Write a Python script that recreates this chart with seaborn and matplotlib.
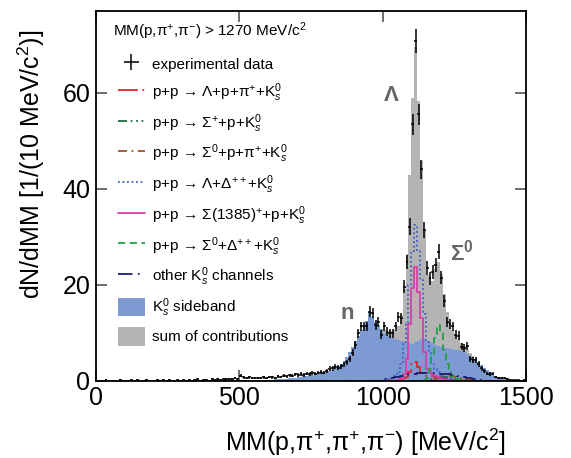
import numpy as np
import pandas as pd
import matplotlib
matplotlib.use('Agg')
import matplotlib.pyplot as plt
from matplotlib.lines import Line2D
from matplotlib.patches import Patch
import seaborn as sns

# binning: 10 MeV/c2 bins from 0 to 1500
bordas = np.arange(0, 1510, 10)
centros = bordas[:-1] + 5

# experimental data (counts per bin, 0..1490)
dados_exp = [
    0, 0, 0, 0.2, 0, 0, 0, 0, 0.2, 0,
    0, 0, 0.2, 0, 0.2, 0, 0, 0.2, 0, 0,
    0, 0.2, 0, 0.2, 0, 0.2, 0, 0, 0.2, 0,
    0.2, 0, 0.2, 0, 0.2, 0.3, 0, 0.2, 0.2, 0,
    0.3, 0.2, 0.3, 0.2, 0.4, 0.3, 0.3, 0.4, 0.5, 0.4,
    1.0, 0.7, 0.6, 0.7, 0.5, 0.6, 0.5, 0.6, 0.7, 0.6,
    0.8, 0.7, 0.6, 0.9, 0.8, 1.0, 0.9, 1.1, 1.0, 1.3,
    1.2, 1.4, 1.2, 1.5, 1.4, 1.6, 1.5, 1.7, 1.8, 1.7,
    2.0, 2.5, 2.6, 2.9, 2.7, 3.0, 3.4, 3.8, 4.6, 5.8,
    7.5, 9.9, 11.3, 11.3, 11.3, 14.4, 14.1, 11.6, 12.3, 9.6,
    11.3, 10.2, 9.9, 9.9, 11.3, 13.3, 13.0, 19.6, 24.8, 32.1,
    53.4, 70.8, 55.5, 44.1, 31.4, 23.4, 21.3, 22.7, 24.1, 26.9,
    21.5, 16.6, 12.2, 11.8, 11.3, 9.6, 9.4, 7.1, 6.8, 7.2,
    4.6, 4.3, 4.3, 3.5, 2.6, 2.0, 1.5, 1.4, 1.5, 0.8,
    0.6, 0.5, 0.5, 0.3, 0.2, 0.1, 0.1, 0.1, 0, 0.1,
]

# K0s sideband (0..1490)
sideband = [0] * 60 + [
    0.2, 0.2, 0.3, 0.3, 0.3, 0.4, 0.4, 0.5, 0.5, 0.6,
    0.7, 0.8, 0.9, 1.0, 1.1, 1.2, 1.4, 1.5, 1.6, 1.8,
    2.0, 2.1, 2.3, 2.6, 3.0, 3.5, 4.2, 5.0, 6.0, 7.0,
    8.2, 9.3, 10.5, 11.5, 12.5, 14.3, 13.2, 12.3, 11.6, 10.8,
    10.0, 9.6, 9.3, 9.0, 8.7, 8.5, 8.3, 8.1, 8.0, 7.8,
    7.6, 8.0, 8.3, 8.6, 8.6, 8.3, 8.0, 7.8, 7.5, 7.2,
    7.0, 6.8, 6.8, 6.7, 6.6, 6.5, 6.3, 6.1, 5.9, 5.6,
    5.0, 4.6, 4.2, 3.7, 3.2, 2.7, 2.2, 1.8, 1.4, 1.0,
    0.7, 0.5, 0.3, 0.2, 0.1, 0, 0, 0, 0, 0,
]

# simulated channels, bins from 1000 to 1340
lam_p_pi = [0, 0, 0.1, 0.1, 0.2, 0.2, 0.3, 0.5, 0.8, 1.8,
            3.5, 4.0, 2.8, 1.6, 1.2, 1.0, 0.9, 0.9, 0.8, 0.7,
            0.6, 0.5, 0.4, 0.3, 0.2, 0.2, 0.1, 0.1, 0, 0,
            0, 0, 0, 0, 0]
sigp_p = [0, 0, 0, 0, 0, 0, 0, 0, 0, 0,
          0, 0, 0, 0, 0, 0.1, 0.2, 0.4, 0.6, 0.7,
          0.8, 0.8, 0.7, 0.6, 0.5, 0.4, 0.3, 0.2, 0.1, 0,
          0, 0, 0, 0, 0]
sig0_p_pi = [0, 0, 0, 0, 0, 0, 0, 0, 0, 0,
             0, 0, 0, 0, 0, 0, 0, 0.1, 0.3, 0.5,
             0.7, 0.9, 1.0, 1.0, 0.9, 0.8, 0.7, 0.5, 0.4, 0.3,
             0.2, 0.1, 0, 0, 0]
lam_delta = [0.2, 0.3, 0.4, 0.6, 1.0, 1.8, 3.5, 8.0, 12.0, 20.0,
             27.0, 32.4, 27.0, 21.0, 14.0, 8.0, 6.0, 3.5, 2.5, 1.8,
             1.2, 0.8, 0.5, 0.3, 0.2, 0.1, 0, 0, 0, 0,
             0, 0, 0, 0, 0]
sig1385_p = [0, 0, 0, 0, 0, 0.2, 0.5, 1.5, 4.5, 11.9,
             19.3, 23.6, 18.5, 13.0, 6.0, 2.5, 2.0, 1.5, 1.0, 0.7,
             0.4, 0.2, 0.1, 0, 0, 0, 0, 0, 0, 0,
             0, 0, 0, 0, 0]
sig0_delta = [0, 0, 0, 0, 0, 0, 0, 0, 0, 0,
              0, 0, 0, 0, 0.2, 0.5, 2.5, 5.0, 9.0, 11.6,
              10.0, 6.5, 3.5, 1.8, 1.0, 0.5, 0.3, 0.1, 0, 0,
              0, 0, 0, 0, 0]
outros = [0.3, 0.4, 0.5, 0.6, 0.7, 0.8, 1.0, 1.1, 1.2, 1.3,
          1.5, 1.5, 1.6, 1.6, 1.6, 1.6, 1.6, 1.6, 1.6, 1.6,
          1.5, 1.5, 1.4, 1.3, 1.2, 1.1, 1.0, 0.9, 0.8, 0.6,
          0.5, 0.4, 0.3, 0.2, 0.1]

rotulos = [
    r'p+p → Λ+p+π$^{+}$+K$^{0}_{s}$',
    r'p+p → Σ$^{+}$+p+K$^{0}_{s}$',
    r'p+p → Σ$^{0}$+p+π$^{+}$+K$^{0}_{s}$',
    r'p+p → Λ+Δ$^{++}$+K$^{0}_{s}$',
    r'p+p → Σ(1385)$^{+}$+p+K$^{0}_{s}$',
    r'p+p → Σ$^{0}$+Δ$^{++}$+K$^{0}_{s}$',
    r'other K$^{0}_{s}$ channels',
]
cores = ['#e8212b', '#1d6b3f', '#a0522d', '#3b5fc9', '#d63fa9', '#1fa045', '#1c1c6e']
estilos = [(0, (11, 2.5, 1, 2.5)), (0, (5, 2, 1, 2, 1, 2, 1, 2)), (0, (5, 2.5, 1, 2.5)),
           (0, (1, 1.5)), '-', (0, (4, 2.5)), (0, (8, 3, 1, 3))]


def completar(valores, inicio=1000):
    # pad a channel to the full 0..1500 binning
    arr = np.zeros(len(centros))
    i0 = inicio // 10
    arr[i0:i0 + len(valores)] = valores
    return arr


canais = [completar(c) for c in [lam_p_pi, sigp_p, sig0_p_pi, lam_delta,
                                  sig1385_p, sig0_delta, outros]]
sideband = np.array(sideband, dtype=float)
soma = sideband + np.sum(canais, axis=0)
dados_exp = np.array(dados_exp, dtype=float)

sns.set_style('ticks')
plt.rcParams['font.family'] = ['Liberation Sans', 'DejaVu Sans']
plt.rcParams['mathtext.fontset'] = 'custom'
plt.rcParams['mathtext.rm'] = 'Liberation Sans'
plt.rcParams['mathtext.it'] = 'Liberation Sans:italic'
plt.rcParams['mathtext.bf'] = 'Liberation Sans:bold'
plt.rcParams['text.color'] = 'black'
plt.rcParams['axes.labelcolor'] = 'black'

fig = plt.figure(figsize=(5.71, 4.58), dpi=100)
ax = fig.add_axes([96 / 571, 1 - 380.7 / 458, 430 / 571, 370 / 458])


def histo(valores, **kw):
    tabela = pd.DataFrame({'x': centros, 'w': valores})
    sns.histplot(data=tabela, x='x', weights='w', bins=list(bordas),
                 element='step', ax=ax, **kw)


histo(soma, fill=True, color='#b4b4b4', alpha=1, linewidth=0)
histo(sideband, fill=True, color='#7d9ad2', alpha=1, linewidth=0)
for canal, cor, ls in zip(canais, cores, estilos):
    histo(canal, fill=False, color=cor, linestyle=ls, linewidth=1.3)

df = pd.DataFrame({'x': centros, 'y': dados_exp})
df = df[df['y'] > 0]
erros = 0.3 * np.sqrt(df['y'])
barras = ax.errorbar(df['x'], df['y'], xerr=5, yerr=erros, fmt='none',
                     ecolor='black', elinewidth=1.1)

ax.set_xlim(0, 1500)
ax.set_ylim(0, 77.1)
ax.set_xticks([0, 500, 1000, 1500])
ax.set_yticks([0, 20, 40, 60])
ax.tick_params(direction='in', length=8, width=1.2, color='#555555',
               labelcolor='black', labelsize=18, top=True, right=True, pad=4)
for s in ax.spines.values():
    s.set_linewidth(1.3)
    s.set_color('black')

ax.set_xlabel(r'MM(p,π$^{+}$,π$^{+}$,π$^{-}$) [MeV/c$^{2}$]', fontsize=18, color='black')
ax.set_ylabel(r'dN/dMM [1/(10 MeV/c$^{2}$)]', fontsize=18, color='black')
ax.xaxis.label.set_ha('right')
ax.yaxis.label.set_ha('right')
ax.xaxis.set_label_coords(0.953, -0.125)
ax.yaxis.set_label_coords(-0.114, 0.948)

ax.text(1030, 59.5, 'Λ', color='#666666', fontsize=16, fontweight='bold',
        ha='center', va='center')
ax.text(1277, 26.8, r'Σ$^{\mathbf{0}}$', color='#666666', fontsize=16,
        fontweight='bold', ha='center', va='center')
ax.text(878, 14.0, 'n', color='#666666', fontsize=16, fontweight='bold',
        ha='center', va='center')

ax.text(0.039, 0.945, r'MM(p,π$^{+}$,π$^{-}$) > 1270 MeV/c$^{2}$',
        transform=ax.transAxes, fontsize=11, va='center', ha='left', color='black')

handles = [barras]
handles += [Line2D([], [], color=c, linestyle=ls, linewidth=1.3)
            for c, ls in zip(cores, estilos)]
handles += [Patch(facecolor='#7d9ad2', edgecolor='none'),
            Patch(facecolor='#b4b4b4', edgecolor='none')]
labels = ['experimental data'] + rotulos + [r'K$^{0}_{s}$ sideband', 'sum of contributions']
leg = ax.legend(handles, labels, loc='upper left', bbox_to_anchor=(0.051, 0.881),
                frameon=False, fontsize=11, handlelength=1.75, handleheight=1.5,
                labelspacing=0.53, handletextpad=0.45, borderpad=0, borderaxespad=0)
for t in leg.get_texts():
    t.set_color('black')

fig.savefig('out.png', dpi=100)
